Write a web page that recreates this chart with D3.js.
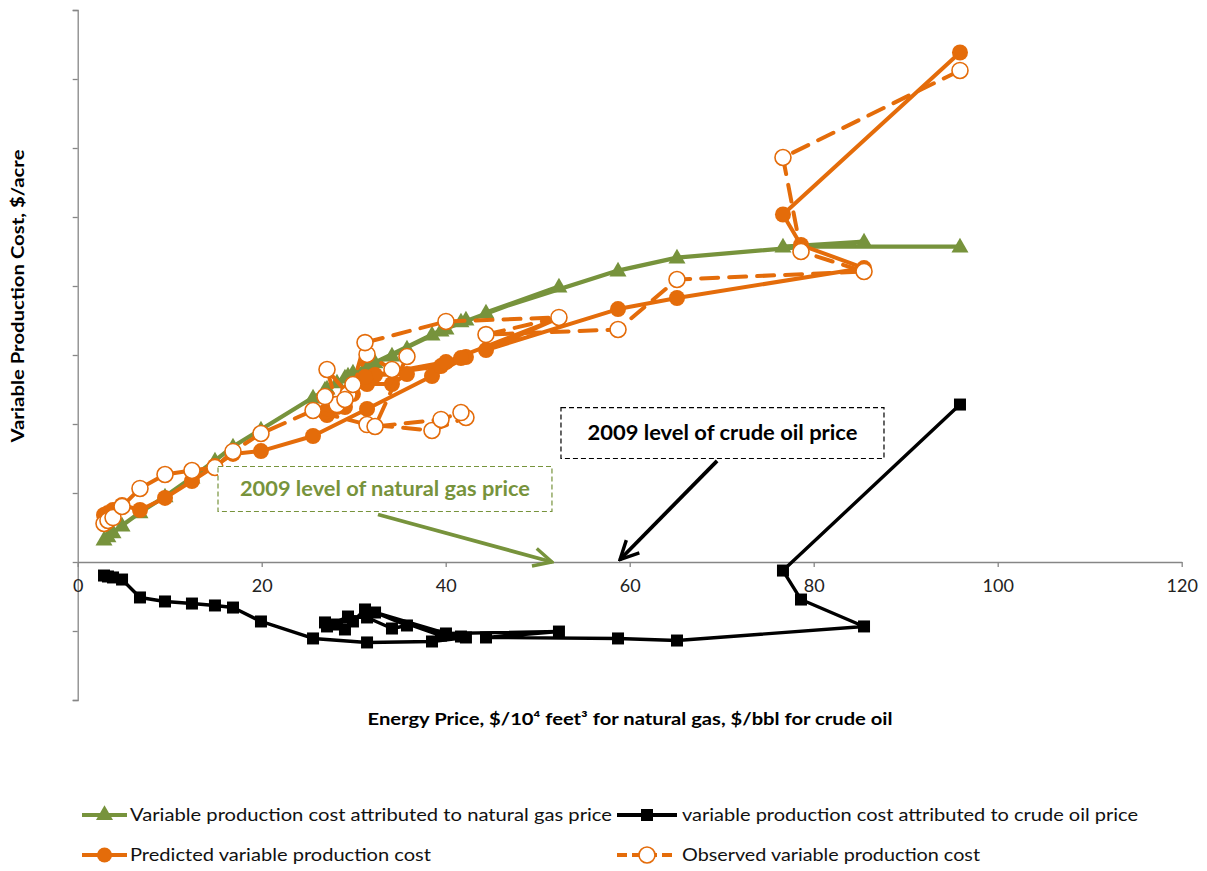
<!DOCTYPE html>
<html><head><meta charset="utf-8">
<script src="https://cdn.jsdelivr.net/npm/d3@7"></script>
<style>
body{margin:0;background:#fff;}
svg{display:block;font-family:Lato,"Open Sans",sans-serif;}
</style></head>
<body><svg id="chart" width="1207" height="871"></svg>
<script>
// Energy price (x) for each observation, in chronological order
const energyPrice = [2.86,3.29,3.84,4.82,6.77,9.49,12.42,14.92,16.88,19.92,25.58,31.45,38.51,42.20,41.66,39.49,32.32,35.79,34.16,31.45,29.38,27.10,28.18,29.05,26.88,29.92,31.23,40.03,52.31,44.38,58.73,65.14,85.47,78.62,76.66,95.90];
// Variable production cost attributed to natural gas price
const gasCost = [16.3,18.5,21.4,26.4,35.9,47.5,61.2,73.5,83.7,96.0,119.2,141.7,164.8,175.7,174.3,167.7,144.6,154.7,149.6,141.7,135.1,125.7,130.1,133.7,125.0,137.3,140.9,169.2,199.6,180.8,211.2,220.6,232.2,229.3,228.6,228.6];
// Variable production cost attributed to crude oil price
const oilCost = [-9.8,-10.5,-11.2,-12.7,-25.7,-28.6,-30.1,-31.5,-33.0,-43.1,-55.4,-58.3,-57.6,-54.7,-54.0,-53.3,-36.6,-46.0,-48.2,-40.2,-39.5,-46.7,-45.3,-48.9,-43.8,-43.1,-34.4,-51.8,-50.4,-54.7,-55.4,-56.9,-46.7,-27.2,-6.2,114.1];
// Predicted variable production cost
const predictedCost = [34.1,35.5,37.7,41.3,37.7,46.4,58.7,69.6,78.3,80.4,91.3,110.9,134.8,148.5,147.8,142.0,135.5,136.2,129.0,129.0,123.2,106.5,112.3,112.3,108.7,121.7,134.0,144.9,176.8,153.6,183.3,191.3,213.0,229.7,251.8,369.2];
// Observed variable production cost
const observedCost = [27.9,30.1,32.2,40.2,53.3,63.4,66.3,68.5,80.1,93.1,109.8,99.6,95.3,104.7,108.3,103.3,98.2,148.9,139.5,150.4,121.4,139.5,114.1,117.8,119.9,128.6,159.0,174.3,177.2,164.8,168.5,204.7,210.5,225.0,293.1,356.2];

const xTicks = [0,20,40,60,80,100,120];
const yTicks = [-100,-50,0,50,100,150,200,250,300,350,400];
const seriesNames = ["Variable production cost attributed  to natural gas price",
  "variable production cost attributed  to crude oil price",
  "Predicted variable production cost",
  "Observed variable production cost"];
const xTitle = "Energy Price, $/10⁴ feet³ for natural gas, $/bbl for crude oil";
const yTitle = "Variable Production Cost, $/acre";
const gasNote = "2009 level of natural gas price";
const oilNote = "2009 level of crude oil price";

const GREEN = "#77933C", ORANGE = "#E46C0A", BLACK = "#000000", AXIS = "#868686";

const svg = d3.select("#chart");
const x = d3.scaleLinear().domain([0,120]).range([77.7,1181.7]);
const y = d3.scaleLinear().domain([-100,400]).range([700,10]);

// Y axis (no labels)
const yAxis = svg.append("g").attr("transform",`translate(${x(0)},0)`)
  .call(d3.axisLeft(y).tickValues(yTicks).tickSize(5).tickFormat(""));
yAxis.select(".domain").attr("stroke",AXIS).attr("stroke-width",1.3);
yAxis.selectAll(".tick line").attr("stroke",AXIS).attr("stroke-width",1.3);

// X axis at y=0
const xAxis = svg.append("g").attr("transform",`translate(0,${y(0)})`)
  .call(d3.axisBottom(x).tickValues(xTicks).tickSize(5).tickPadding(12).tickSizeOuter(0));
xAxis.select(".domain").attr("stroke",AXIS).attr("stroke-width",1.3);
xAxis.selectAll(".tick line").attr("stroke",AXIS).attr("stroke-width",1.3);
xAxis.selectAll(".tick text").attr("font-size",18).attr("fill","#222").attr("font-family","Lato,sans-serif");

// Axis titles
svg.append("text").attr("x",630).attr("y",725).attr("text-anchor","middle")
  .attr("font-size",17).attr("font-weight","bold").attr("textLength",525).attr("lengthAdjust","spacingAndGlyphs").text(xTitle);
svg.append("text").attr("transform","translate(24,296) rotate(-90)").attr("text-anchor","middle")
  .attr("font-size",16.5).attr("font-weight","bold").attr("textLength",293).attr("lengthAdjust","spacingAndGlyphs").text(yTitle);

// Annotations
svg.append("defs").html(`
<marker id="ag" viewBox="0 0 20 20" refX="18" refY="10" markerWidth="6" markerHeight="6" markerUnits="strokeWidth" orient="auto"><path d="M2,2 L18,10 L2,18" fill="none" stroke="${GREEN}" stroke-width="3"/></marker>
<marker id="ab" viewBox="0 0 20 20" refX="18" refY="10" markerWidth="6" markerHeight="6" markerUnits="strokeWidth" orient="auto"><path d="M2,2 L18,10 L2,18" fill="none" stroke="${BLACK}" stroke-width="3"/></marker>`);

function noteBox(x0,x1,y0,y1,color,label,tw){
  svg.append("rect").attr("x",x(x0)).attr("y",y(y1)).attr("width",x(x1)-x(x0)).attr("height",y(y0)-y(y1))
    .attr("fill","#fff").attr("stroke",color).attr("stroke-width",1.2).attr("stroke-dasharray","5,3");
  svg.append("text").attr("x",(x(x0)+x(x1))/2).attr("y",(y(y0)+y(y1))/2+7).attr("text-anchor","middle")
    .attr("font-size",20).attr("font-weight","bold").attr("fill",color)
    .attr("textLength",tw).attr("lengthAdjust","spacingAndGlyphs").text(label);
}

// Series lines & markers
const idx = d3.range(energyPrice.length);
function lineFor(vals){ return d3.line().x(i=>x(energyPrice[i])).y(i=>y(vals[i])); }

// gas
svg.append("path").attr("d",lineFor(gasCost)(idx)).attr("fill","none").attr("stroke",GREEN).attr("stroke-width",4.3).attr("stroke-linejoin","round");
svg.append("g").selectAll("path").data(idx).join("path")
  .attr("d",d3.symbol(d3.symbolTriangle,125)()).attr("transform",i=>`translate(${x(energyPrice[i])},${y(gasCost[i])+1})`).attr("fill",GREEN);
// oil
svg.append("path").attr("d",lineFor(oilCost)(idx)).attr("fill","none").attr("stroke",BLACK).attr("stroke-width",3.4).attr("stroke-linejoin","round");
svg.append("g").selectAll("rect").data(idx).join("rect")
  .attr("x",i=>x(energyPrice[i])-6).attr("y",i=>y(oilCost[i])-6).attr("width",12).attr("height",12).attr("fill",BLACK);
// predicted
svg.append("path").attr("d",lineFor(predictedCost)(idx)).attr("fill","none").attr("stroke",ORANGE).attr("stroke-width",4).attr("stroke-linejoin","round");
svg.append("g").selectAll("circle").data(idx).join("circle")
  .attr("cx",i=>x(energyPrice[i])).attr("cy",i=>y(predictedCost[i])).attr("r",8).attr("fill",ORANGE);
// observed
svg.append("path").attr("d",lineFor(observedCost)(idx)).attr("fill","none").attr("stroke",ORANGE).attr("stroke-width",4).attr("stroke-dasharray","17,11").attr("stroke-linecap","round");
svg.append("g").selectAll("circle").data(idx).join("circle")
  .attr("cx",i=>x(energyPrice[i])).attr("cy",i=>y(observedCost[i])).attr("r",8).attr("fill","#fff").attr("stroke",ORANGE).attr("stroke-width",1.6);

// annotation boxes + arrows (on top)
noteBox(15.25,51.55,36.6,69.2,GREEN,gasNote,290);
noteBox(52.53,87.64,75.0,111.9,BLACK,oilNote,270);
svg.append("line").attr("x1",x(32.64)).attr("y1",y(34.4)).attr("x2",x(51.55)).attr("y2",y(0))
  .attr("stroke",GREEN).attr("stroke-width",3.8).attr("marker-end","url(#ag)");
svg.append("line").attr("x1",x(69.5)).attr("y1",y(73.3)).attr("x2",x(58.95)).attr("y2",y(1.8))
  .attr("stroke",BLACK).attr("stroke-width",3.8).attr("marker-end","url(#ab)");

// Legend
const leg = svg.append("g");
const legItems = [
  {name:seriesNames[0], lx:82, tx:130, tw:482, yy:815, color:GREEN, mk:"tri", dash:null},
  {name:seriesNames[1], lx:617, tx:682, tw:456, yy:815, color:BLACK, mk:"sq", dash:null},
  {name:seriesNames[2], lx:82, tx:130, tw:301, yy:855, color:ORANGE, mk:"dot", dash:null},
  {name:seriesNames[3], lx:617, tx:682, tw:298, yy:855, color:ORANGE, mk:"open", dash:"10,5"}
];
legItems.forEach(d=>{
  const w = d.lx===82 ? 45 : 60;
  leg.append("line").attr("x1",d.lx).attr("x2",d.lx+w).attr("y1",d.yy).attr("y2",d.yy)
    .attr("stroke",d.color).attr("stroke-width",4).attr("stroke-dasharray",d.dash);
  const cx = d.lx + w/2;
  if(d.mk==="tri") leg.append("path").attr("d",d3.symbol(d3.symbolTriangle,125)()).attr("transform",`translate(${cx},${d.yy})`).attr("fill",d.color);
  if(d.mk==="sq") leg.append("rect").attr("x",cx-6).attr("y",d.yy-6).attr("width",12).attr("height",12).attr("fill",d.color);
  if(d.mk==="dot") leg.append("circle").attr("cx",cx).attr("cy",d.yy).attr("r",7.5).attr("fill",d.color);
  if(d.mk==="open") leg.append("circle").attr("cx",cx).attr("cy",d.yy).attr("r",8).attr("fill","#fff").attr("stroke",d.color).attr("stroke-width",1.6);
  leg.append("text").attr("x",d.tx).attr("y",d.yy+6).attr("font-size",17.5).attr("fill","#111")
    .attr("textLength",d.tw).attr("lengthAdjust","spacingAndGlyphs").text(d.name);
});
</script></body></html>
